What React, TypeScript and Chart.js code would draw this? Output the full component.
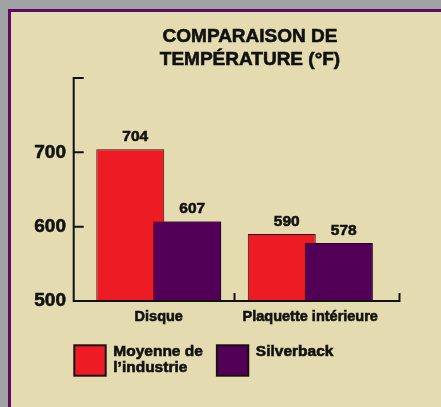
import React, { useEffect, useRef } from 'react';
import { Chart, registerables } from 'chart.js';

Chart.register(...registerables);

const titleLines = ['COMPARAISON DE', 'TEMPÉRATURE (°F)'];
const categories = ['Disque', 'Plaquette intérieure'];
const industryValues = [704, 590];
const silverbackValues = [607, 578];
const seriesNames = ['Moyenne de\nl’industrie', 'Silverback'];
const seriesColors = ['#ed1c24', '#520057'];
const yTickValues = [500, 600, 700, 800];
const yTickLabels = ['500', '600', '700', ''];

const FONT = '"Liberation Sans", Arial, Helvetica, sans-serif';
const INK = '#111111';
const HEAVY = 0.6;

export default function App() {
  const ref = useRef<HTMLCanvasElement>(null);

  useEffect(() => {
    document.body.style.margin = '0';
    const canvas = ref.current!;

    const heavyText = (ctx: CanvasRenderingContext2D, t: string, x: number, y: number) => {
      ctx.fillText(t, x, y);
      ctx.strokeText(t, x, y);
    };

    const overlay = {
      id: 'overlay',
      afterDatasetsDraw(chart: any) {
        const ctx = chart.ctx as CanvasRenderingContext2D;
        const { left, right, top, bottom } = chart.chartArea;

        // Silverback bars sit on top of the industry bars
        ctx.save();
        ctx.beginPath();
        ctx.rect(left - 20, top, right - left + 40, bottom - top);
        ctx.clip();
        chart.getDatasetMeta(1).controller.draw();
        ctx.restore();

        const xs = chart.scales.x;
        const ys = chart.scales.y;
        const axisX = left - 9.3;
        const axisEnd = right + 13.5;

        ctx.save();
        ctx.strokeStyle = INK;
        ctx.lineWidth = 2;
        ctx.beginPath();
        const topPx = ys.getPixelForValue(yTickValues[yTickValues.length - 1]);
        ctx.moveTo(axisX, topPx - 1);
        ctx.lineTo(axisX, bottom + 1);
        ctx.moveTo(axisX - 1, bottom);
        ctx.lineTo(axisEnd + 1, bottom);
        yTickValues.forEach((v, i) => {
          if (i === 0) return;
          const py = ys.getPixelForValue(v);
          ctx.moveTo(axisX, py);
          ctx.lineTo(axisX + 10, py);
        });
        for (let i = 0; i < categories.length; i++) {
          const px =
            i < categories.length - 1
              ? (xs.getPixelForValue(i) + xs.getPixelForValue(i + 1)) / 2
              : axisEnd;
          ctx.moveTo(px, bottom);
          ctx.lineTo(px, bottom - 8);
        }
        ctx.stroke();

        // value labels
        ctx.fillStyle = INK;
        ctx.strokeStyle = INK;
        ctx.lineWidth = HEAVY;
        ctx.font = `bold 15.5px ${FONT}`;
        ctx.textAlign = 'center';
        ctx.textBaseline = 'alphabetic';
        chart.data.datasets.forEach((ds: any, di: number) => {
          const meta = chart.getDatasetMeta(di);
          meta.data.forEach((el: any, i: number) => {
            heavyText(ctx, String(ds.data[i]), el.x + 5, el.y - 8);
          });
        });
        ctx.restore();
      },
      afterDraw(chart: any) {
        const ctx = chart.ctx as CanvasRenderingContext2D;
        ctx.save();
        ctx.fillStyle = INK;
        ctx.strokeStyle = INK;
        ctx.lineWidth = HEAVY;
        // title
        ctx.font = `bold 19px ${FONT}`;
        ctx.textAlign = 'center';
        ctx.textBaseline = 'alphabetic';
        titleLines.forEach((line, i) => heavyText(ctx, line, 250, 42 + i * 23));

        // legend
        ctx.font = `bold 15.5px ${FONT}`;
        ctx.textAlign = 'left';
        let x = chart.chartArea.left - 9.7;
        const boxTop = 345.3;
        chart.data.datasets.forEach((ds: any, di: number) => {
          ctx.fillStyle = seriesColors[di];
          ctx.fillRect(x + 1, boxTop, 31.4, 30.4);
          ctx.strokeStyle = '#1a1010';
          ctx.lineWidth = 2;
          ctx.strokeRect(x + 1, boxTop, 31.4, 30.4);
          const lines = String(ds.label).split('\n');
          ctx.fillStyle = INK;
          ctx.strokeStyle = INK;
          ctx.lineWidth = HEAVY;
          let maxW = 0;
          const tx = x + 40;
          lines.forEach((ln, li) => {
            heavyText(ctx, ln, tx, 355.5 + li * 16.5);
            maxW = Math.max(maxW, ctx.measureText(ln).width);
          });
          x = tx + maxW + 13;
        });
        ctx.restore();
      },
    };

    const chart = new Chart(canvas, {
      type: 'bar',
      data: {
        labels: categories,
        datasets: [
          {
            label: seriesNames[0],
            data: industryValues,
            backgroundColor: seriesColors[0],
            borderColor: '#3a0a10',
            borderWidth: 1,
          },
          {
            label: seriesNames[1],
            data: silverbackValues,
            backgroundColor: seriesColors[1],
            borderColor: '#1e0020',
            borderWidth: 1,
          },
        ],
      },
      options: {
        responsive: false,
        animation: false,
        events: [],
        categoryPercentage: 0.752,
        barPercentage: 1.193,
        layout: { padding: { left: 0, top: 78, right: 55, bottom: 76 } },
        plugins: {
          legend: { display: false },
          title: { display: false },
          tooltip: { enabled: false },
        },
        scales: {
          x: {
            type: 'category',
            offset: true,
            grid: { display: false, drawTicks: false },
            border: { display: false },
            ticks: {
              padding: 7,
              color: INK,
              textStrokeColor: INK,
              textStrokeWidth: HEAVY,
              font: { family: FONT, size: 14.5, weight: 'bold' },
              maxRotation: 0,
              autoSkip: false,
            },
            afterFit: (s: any) => {
              s.height = 30;
            },
          },
          y: {
            type: 'linear',
            min: yTickValues[0],
            max: yTickValues[yTickValues.length - 1],
            grid: { display: false, drawTicks: false },
            border: { display: false },
            afterBuildTicks: (s: any) => {
              s.ticks = yTickValues.map((v) => ({ value: v }));
            },
            ticks: {
              padding: 17,
              color: INK,
              textStrokeColor: INK,
              textStrokeWidth: HEAVY,
              font: { family: FONT, size: 19, weight: 'bold' },
              callback: (v: any) => yTickLabels[yTickValues.indexOf(Number(v))] ?? '',
            },
            afterFit: (s: any) => {
              s.width = 83;
            },
          },
        },
      } as any,
      plugins: [overlay],
    });

    return () => chart.destroy();
  }, []);

  return (
    <div
      style={{
        position: 'fixed',
        left: 0,
        top: 0,
        width: 441,
        height: 407,
        background: '#a1a2a6',
        overflow: 'hidden',
      }}
    >
      <div
        style={{
          position: 'absolute',
          left: 8,
          top: 9,
          width: 460,
          height: 420,
          background: '#e4dcb0',
          borderTop: '3px solid #5c0a62',
          borderLeft: '3px solid #5c0a62',
        }}
      />
      <canvas
        ref={ref}
        width={441}
        height={407}
        style={{ position: 'absolute', left: 0, top: 0, width: 441, height: 407 }}
      />
    </div>
  );
}
